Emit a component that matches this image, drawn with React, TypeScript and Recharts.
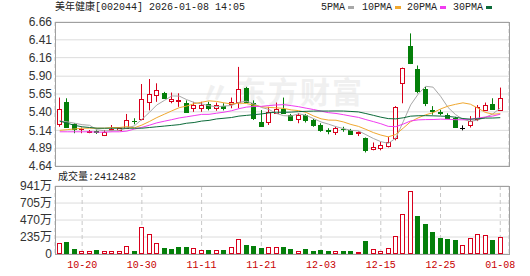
import React from 'react';
import { ComposedChart, Bar, Line, XAxis, YAxis, CartesianGrid } from 'recharts';

// trading days shown on the chart
const dates = [
  '10-15', '10-16', '10-17', '10-20', '10-21', '10-22', '10-23', '10-24', '10-27', '10-28',
  '10-29', '10-30', '10-31', '11-03', '11-04', '11-05', '11-06', '11-07', '11-10', '11-11',
  '11-12', '11-13', '11-14', '11-17', '11-18', '11-19', '11-20', '11-21', '11-24', '11-25',
  '11-26', '11-27', '11-28', '12-01', '12-02', '12-03', '12-04', '12-05', '12-08', '12-09',
  '12-10', '12-11', '12-12', '12-15', '12-16', '12-17', '12-18', '12-19', '12-22', '12-23',
  '12-24', '12-25', '12-26', '12-29', '12-30', '12-31', '01-05', '01-06', '01-07', '01-08',
];

const opens = [
  5.23, 5.54, 5.225, 5.155, 5.12, 5.125, 5.075, 5.145, 5.15, 5.17,
  5.275, 5.295, 5.54, 5.64, 5.67, 5.55, 5.55, 5.53, 5.45, 5.46,
  5.51, 5.45, 5.48, 5.51, 5.535, 5.73, 5.53, 5.26, 5.26, 5.38,
  5.435, 5.355, 5.295, 5.355, 5.285, 5.215, 5.14, 5.12, 5.165, 5.145,
  5.1, 5.03, 4.875, 4.89, 4.92, 5.03, 5.8, 6.32, 6.0, 5.715,
  5.42, 5.4, 5.355, 5.31, 5.18, 5.215, 5.295, 5.425, 5.51, 5.425,
];
const highs = [
  5.6, 5.59, 5.24, 5.18, 5.145, 5.14, 5.145, 5.215, 5.18, 5.37,
  5.31, 5.79, 5.86, 5.8, 5.68, 5.67, 5.66, 5.56, 5.54, 5.54,
  5.54, 5.53, 5.52, 5.6, 6.03, 5.75, 5.56, 5.425, 5.47, 5.53,
  5.6, 5.37, 5.38, 5.37, 5.3, 5.24, 5.17, 5.19, 5.19, 5.16,
  5.125, 5.04, 4.97, 4.98, 5.05, 5.48, 6.02, 6.5, 6.05, 5.75,
  5.48, 5.43, 5.38, 5.33, 5.21, 5.34, 5.495, 5.53, 5.59, 5.74,
];
const lows = [
  5.19, 5.18, 5.1, 5.1, 5.1, 5.09, 5.06, 5.13, 5.14, 5.165,
  5.225, 5.28, 5.42, 5.54, 5.58, 5.52, 5.47, 5.39, 5.4, 5.4,
  5.42, 5.415, 5.42, 5.45, 5.45, 5.53, 5.285, 5.19, 5.215, 5.37,
  5.37, 5.27, 5.24, 5.25, 5.19, 5.12, 5.085, 5.075, 5.12, 5.08,
  5.06, 4.83, 4.86, 4.86, 4.9, 5.0, 5.52, 6.07, 5.66, 5.48,
  5.36, 5.35, 5.3, 5.19, 5.14, 5.18, 5.27, 5.41, 5.43, 5.42,
];
const closes = [
  5.435, 5.19, 5.155, 5.16, 5.125, 5.12, 5.12, 5.165, 5.175, 5.285,
  5.27, 5.575, 5.65, 5.7, 5.6, 5.585, 5.57, 5.4, 5.5, 5.5,
  5.46, 5.495, 5.45, 5.54, 5.72, 5.54, 5.31, 5.2, 5.4, 5.44,
  5.38, 5.285, 5.355, 5.29, 5.215, 5.145, 5.13, 5.18, 5.155, 5.09,
  5.11, 4.865, 4.91, 4.935, 4.97, 5.47, 6.02, 6.09, 5.69, 5.52,
  5.41, 5.38, 5.31, 5.19, 5.18, 5.275, 5.47, 5.495, 5.435, 5.59,
];

// volume in 万 (10k shares)
const volumes = [
  152, 171, 69, 37, 37, 55, 41, 41, 41, 111,
  41, 369, 277, 148, 83, 69, 97, 97, 83, 55,
  55, 55, 55, 97, 207, 124, 111, 83, 97, 97,
  97, 69, 41, 69, 41, 55, 41, 41, 41, 41,
  28, 180, 69, 41, 83, 245, 553, 876, 526, 415,
  309, 221, 207, 194, 124, 221, 277, 263, 194, 241.2482,
];
// 1 = rising day (red hollow volume bar), 0 = falling day (green)
const volUp = [
  1, 0, 0, 1, 1, 0, 1, 1, 1, 1,
  0, 1, 1, 1, 0, 0, 0, 0, 1, 1,
  0, 1, 0, 1, 1, 0, 0, 0, 1, 1,
  0, 0, 1, 0, 0, 0, 0, 1, 0, 0,
  1, 0, 1, 1, 1, 1, 1, 1, 0, 0,
  0, 0, 0, 0, 1, 1, 1, 1, 0, 1,
];

const ma5 = [
  5.27, 5.26, 5.24, 5.22, 5.211, 5.148, 5.134, 5.136, 5.141, 5.173,
  5.203, 5.294, 5.391, 5.496, 5.559, 5.622, 5.621, 5.571, 5.531, 5.511,
  5.486, 5.471, 5.481, 5.489, 5.533, 5.549, 5.512, 5.462, 5.434, 5.378,
  5.346, 5.341, 5.372, 5.35, 5.305, 5.258, 5.227, 5.192, 5.165, 5.14,
  5.133, 5.08, 5.026, 4.982, 4.958, 5.03, 5.261, 5.497, 5.648, 5.758,
  5.746, 5.618, 5.462, 5.362, 5.294, 5.267, 5.285, 5.322, 5.371, 5.453,
];
const ma10 = [
  5.14, 5.15, 5.16, 5.17, 5.17, 5.17, 5.17, 5.18, 5.18, 5.192,
  5.176, 5.214, 5.264, 5.319, 5.366, 5.413, 5.458, 5.481, 5.514, 5.535,
  5.554, 5.546, 5.526, 5.51, 5.522, 5.518, 5.492, 5.472, 5.462, 5.456,
  5.448, 5.427, 5.417, 5.392, 5.342, 5.302, 5.284, 5.282, 5.258, 5.223,
  5.196, 5.154, 5.109, 5.074, 5.049, 5.082, 5.171, 5.262, 5.315, 5.358,
  5.388, 5.44, 5.48, 5.505, 5.526, 5.507, 5.452, 5.392, 5.367, 5.374,
];
const ma20 = [
  5.12, 5.12, 5.12, 5.12, 5.12, 5.115, 5.115, 5.12, 5.12, 5.13,
  5.158, 5.182, 5.212, 5.245, 5.268, 5.29, 5.314, 5.33, 5.347, 5.364,
  5.365, 5.38, 5.395, 5.415, 5.444, 5.466, 5.475, 5.477, 5.488, 5.496,
  5.501, 5.487, 5.472, 5.451, 5.432, 5.41, 5.388, 5.377, 5.36, 5.34,
  5.322, 5.291, 5.263, 5.233, 5.196, 5.192, 5.228, 5.272, 5.287, 5.291,
  5.292, 5.297, 5.295, 5.29, 5.288, 5.295, 5.312, 5.327, 5.341, 5.366,
];
const ma30 = [
  5.27, 5.24, 5.21, 5.19, 5.18, 5.17, 5.17, 5.17, 5.17, 5.17,
  5.17, 5.17, 5.18, 5.19, 5.2, 5.21, 5.22, 5.24, 5.25, 5.27,
  5.28, 5.3, 5.31, 5.32, 5.34, 5.35, 5.36, 5.37, 5.385, 5.395,
  5.393, 5.396, 5.403, 5.407, 5.41, 5.411, 5.411, 5.412, 5.411, 5.405,
  5.399, 5.376, 5.351, 5.325, 5.305, 5.301, 5.316, 5.339, 5.345, 5.346,
  5.344, 5.34, 5.336, 5.324, 5.306, 5.297, 5.303, 5.312, 5.313, 5.318,
];

const labelDates = ['10-20', '10-30', '11-11', '11-21', '12-03', '12-15', '12-25', '01-08'];
const priceTicks = [4.64, 4.89, 5.14, 5.4, 5.65, 5.9, 6.16, 6.41, 6.66];
const volTicks = [0, 235, 470, 705, 941];

const RED = '#d8001c';
const GREEN = '#047f0a';
const MONO = "'Liberation Mono', 'Noto Sans CJK SC', monospace";
const SANS = "'Liberation Sans', Arial, 'Noto Sans CJK SC', sans-serif";

const data = dates.map((d, i) => ({
  date: d,
  range: [lows[i], highs[i]],
  open: opens[i],
  close: closes[i],
  high: highs[i],
  low: lows[i],
  vol: volumes[i],
  up: volUp[i],
  ma5: ma5[i],
  ma10: ma10[i],
  ma20: ma20[i],
  ma30: ma30[i],
}));

const Candle = (props: any) => {
  const { x, y, width, height, payload } = props;
  const { open, close, high, low } = payload;
  const top = Math.min(y, y + height);
  const h = Math.abs(height);
  const k = high > low ? h / (high - low) : 0;
  const yOf = (v: number) => top + (high - v) * k;
  const left = Math.round(x + width / 2 - 2.5);
  const cx = left + 2.5;
  const color = close > open ? RED : close < open ? GREEN : '#000';
  const bTop = Math.round(yOf(Math.max(open, close)));
  const bBot = Math.round(yOf(Math.min(open, close)));
  return (
    <g>
      <line x1={cx} x2={cx} y1={yOf(high)} y2={yOf(low)} stroke={color} strokeWidth={1} />
      {bBot - bTop < 1 ? (
        <line x1={left} x2={left + 5} y1={bTop + 0.5} y2={bTop + 0.5} stroke={color} strokeWidth={1} />
      ) : close > open ? (
        <rect x={left + 0.5} y={bTop + 0.5} width={4} height={bBot - bTop} fill="#fff" stroke={color} />
      ) : (
        <rect x={left} y={bTop} width={5} height={bBot - bTop + 1} fill={color} />
      )}
    </g>
  );
};

const VolBar = (props: any) => {
  const { x, y, width, height, payload } = props;
  const top = Math.round(Math.min(y, y + height));
  const bottom = Math.round(Math.max(y, y + height));
  const left = Math.round(x + width / 2 - 2.5);
  if (payload.up) {
    return <rect x={left + 0.5} y={top + 0.5} width={4} height={bottom - top - 1} fill="#fff" stroke={RED} />;
  }
  return <rect x={left} y={top} width={5} height={bottom - top} fill={GREEN} />;
};

const legend = [
  { name: '5PMA', color: '#a8a8a8', x: 321 },
  { name: '10PMA', color: '#f0a830', x: 362 },
  { name: '20PMA', color: '#f03cf0', x: 407 },
  { name: '30PMA', color: '#0c6b3a', x: 453 },
];

const App = () => {
  return (
    <div style={{ position: 'absolute', left: 0, top: 0, width: 530, height: 276, background: '#fff', overflow: 'hidden' }}>
      <div style={{ position: 'absolute', left: 200, top: 75, fontFamily: "'Noto Sans CJK SC'", fontWeight: 700, fontSize: 30, lineHeight: '30px', color: '#f0f0f0', letterSpacing: 2 }}>
        <span style={{ marginRight: 4 }}>〃</span>东方财富
      </div>
      <div style={{ position: 'absolute', left: 55, top: 2, fontFamily: MONO, fontSize: 10, lineHeight: '12px', color: '#222', whiteSpace: 'nowrap' }}>
        美年健康[002044] 2026-01-08 14:05
      </div>
      {legend.map((l) => (
        <div key={l.name} style={{ position: 'absolute', left: l.x, top: 2, fontFamily: MONO, fontSize: 10, lineHeight: '12px', color: '#222', whiteSpace: 'nowrap' }}>
          {l.name}
          <span style={{ display: 'inline-block', width: 6, height: 3, background: l.color, marginLeft: 3, verticalAlign: 'middle' }} />
        </div>
      ))}
      <div style={{ position: 'absolute', left: 0, top: 0 }}>
        <ComposedChart width={530} height={176} data={data} margin={{ top: 22, right: 21, left: 0, bottom: 9 }}>
          <CartesianGrid vertical={false} stroke="#dcdcdc" />
          <CartesianGrid horizontal={false} stroke="#c8c8c8" strokeDasharray="4 3" />
          <XAxis dataKey="date" ticks={labelDates} interval={0} tick={false} tickLine={false} axisLine={false} height={1} padding={{ left: 1, right: 5 }} />
          <YAxis
            domain={[4.64, 6.66]}
            ticks={priceTicks}
            interval={0}
            allowDataOverflow
            width={55}
            tickSize={0}
            tickMargin={3}
            axisLine={false}
            tickLine={false}
            tickFormatter={(v: number) => v.toFixed(2)}
            tick={{ fontSize: 12, fill: '#333', fontFamily: SANS }}
          />
          <Bar dataKey="range" barSize={5} shape={Candle} isAnimationActive={false} />
          <Line dataKey="ma5" stroke={legend[0].color} dot={false} activeDot={false} strokeWidth={1} isAnimationActive={false} />
          <Line dataKey="ma10" stroke={legend[1].color} dot={false} activeDot={false} strokeWidth={1} isAnimationActive={false} />
          <Line dataKey="ma20" stroke={legend[2].color} dot={false} activeDot={false} strokeWidth={1} isAnimationActive={false} />
          <Line dataKey="ma30" stroke={legend[3].color} dot={false} activeDot={false} strokeWidth={1} isAnimationActive={false} />
        </ComposedChart>
      </div>
      <div style={{ position: 'absolute', left: 55, top: 22, width: 455, height: 145, boxSizing: 'border-box', border: '1px solid #a0a0a0', pointerEvents: 'none' }} />
      <div style={{ position: 'absolute', left: 58, top: 172, fontFamily: MONO, fontSize: 10, lineHeight: '12px', color: '#222', whiteSpace: 'nowrap' }}>
        成交量:2412482
      </div>
      <div style={{ position: 'absolute', left: 0, top: 170 }}>
        <ComposedChart width={530} height={106} data={data} margin={{ top: 16, right: 21, left: 0, bottom: 0 }}>
          <CartesianGrid vertical={false} stroke="#dcdcdc" />
          <CartesianGrid horizontal={false} stroke="#c8c8c8" strokeDasharray="4 3" />
          <XAxis
            dataKey="date"
            ticks={labelDates}
            interval={0}
            height={22}
            tickSize={0}
            tickMargin={7}
            axisLine={false}
            tickLine={false}
            padding={{ left: 1, right: 5 }}
            tick={{ fontSize: 10, fill: '#c80000', fontFamily: MONO }}
          />
          <YAxis
            domain={[0, 941]}
            ticks={volTicks}
            interval={0}
            allowDataOverflow
            width={55}
            tickSize={0}
            tickMargin={3}
            axisLine={false}
            tickLine={false}
            tickFormatter={(v: number) => (v === 0 ? '0' : `${v}万`)}
            tick={{ fontSize: 12, fill: '#333', fontFamily: SANS }}
          />
          <Bar dataKey="vol" barSize={5} shape={VolBar} isAnimationActive={false} />
        </ComposedChart>
      </div>
      <div style={{ position: 'absolute', left: 55, top: 186, width: 455, height: 69, boxSizing: 'border-box', border: '1px solid #a0a0a0', pointerEvents: 'none' }} />
    </div>
  );
};

export default App;
